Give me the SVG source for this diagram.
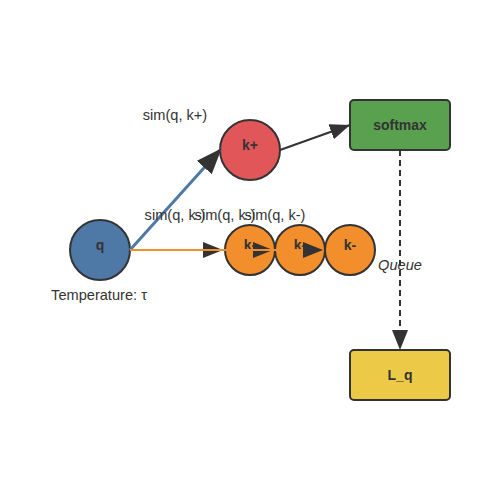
<svg xmlns="http://www.w3.org/2000/svg" width="500" height="500" viewBox="0 0 500 500">
<style>
.node{stroke:#333;stroke-width:2}
.nt{font-family:"Liberation Sans",Arial,sans-serif;font-size:14px;font-weight:bold;fill:#333;text-anchor:middle}
.lbl{font-family:"Liberation Sans",Arial,sans-serif;font-size:14.6px;fill:#333;text-anchor:middle}
.e{fill:none}
</style>
<defs>
<marker id="ahL" markerUnits="userSpaceOnUse" markerWidth="26" markerHeight="20" refX="25" refY="10" orient="auto">
<path d="M0,0 L26,10 L0,20 Z" fill="#333"/>
</marker>
<marker id="ah" markerUnits="userSpaceOnUse" markerWidth="20" markerHeight="16" refX="20" refY="8" orient="auto">
<path d="M0,0 L20,8 L0,16 Z" fill="#333"/>
</marker>
</defs>
<rect width="500" height="500" fill="#fff"/>
<g id="q"><circle class="node" cx="100" cy="250" r="30" fill="#4e79a7"/><text class="nt" x="100" y="250">q</text></g>
<g id="kpos"><circle class="node" cx="250" cy="150" r="30" fill="#e15759"/><text class="nt" x="250" y="150">k+</text></g>
<g id="kneg1"><circle class="node" cx="250" cy="250" r="25" fill="#f28e2b"/><text class="nt" x="250" y="250">k-</text></g>
<g id="kneg2"><circle class="node" cx="300" cy="250" r="25" fill="#f28e2b"/><text class="nt" x="300" y="250">k-</text></g>
<g id="kneg3"><circle class="node" cx="350" cy="250" r="25" fill="#f28e2b"/><text class="nt" x="350" y="250">k-</text></g>
<g id="softmax"><rect class="node" x="350" y="100" width="100" height="50" rx="4" fill="#59a14f"/><text class="nt" x="400" y="130">softmax</text></g>
<g id="Lq"><rect class="node" x="350" y="350" width="100" height="50" rx="4" fill="#edc948"/><text class="nt" x="400" y="380">L_q</text></g>
<g id="connectors">
<line class="e" x1="130" y1="250" x2="221" y2="149" stroke="#4e79a7" stroke-width="3" marker-end="url(#ahL)"/>
<line class="e" x1="280" y1="150" x2="350" y2="125" stroke="#333" stroke-width="2" marker-end="url(#ah)"/>
<line class="e" x1="130" y1="250" x2="223" y2="250" stroke="#f28e2b" stroke-width="2" marker-end="url(#ah)"/>
<line class="e" x1="130" y1="250" x2="273" y2="250" stroke="#f28e2b" stroke-width="2" marker-end="url(#ah)"/>
<line class="e" x1="130" y1="250" x2="323" y2="250" stroke="#f28e2b" stroke-width="2" marker-end="url(#ah)"/>
<line class="e" x1="400" y1="150" x2="400" y2="350" stroke="#333" stroke-width="2" stroke-dasharray="6,4" marker-end="url(#ah)"/>
<text class="lbl" x="175" y="120">sim(q, k+)</text>
<text class="lbl" x="175" y="220">sim(q, k-)</text>
<text class="lbl" x="225" y="220">sim(q, k-)</text>
<text class="lbl" x="275" y="220">sim(q, k-)</text>
<text class="lbl" x="400" y="270" font-style="italic">Queue</text>
</g>
<text class="lbl" x="99" y="300">Temperature: τ</text>
</svg>
